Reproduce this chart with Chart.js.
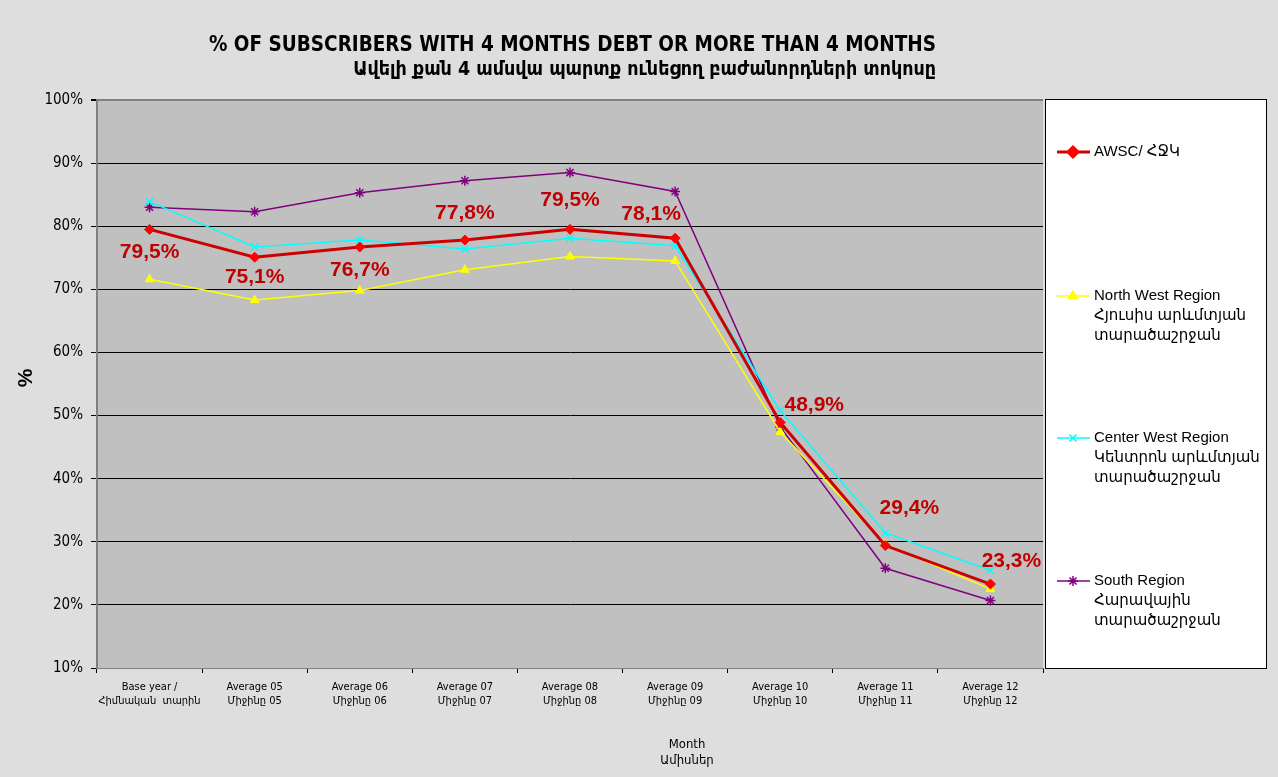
<!DOCTYPE html>
<html>
<head>
<meta charset="utf-8">
<script src="https://cdn.jsdelivr.net/npm/chart.js@4.4.1/dist/chart.umd.min.js"></script>
<style>
    html, body { margin: 0; padding: 0; background: #dedede; }
    #wrap { width: 1278px; height: 777px; position: relative; }
</style>
</head>
<body>
<div id="wrap"><canvas id="debt-chart" width="1278" height="777"></canvas></div>
<script>
const categories = [
    ['Base year /', 'Հիմնական  տարին'],
    ['Average 05', 'Միջինը 05'],
    ['Average 06', 'Միջինը 06'],
    ['Average 07', 'Միջինը 07'],
    ['Average 08', 'Միջինը 08'],
    ['Average 09', 'Միջինը 09'],
    ['Average 10', 'Միջինը 10'],
    ['Average 11', 'Միջինը 11'],
    ['Average 12', 'Միջինը 12']
];
const awscValues = [79.5, 75.1, 76.7, 77.8, 79.5, 78.1, 48.9, 29.4, 23.3];
const northWestValues = [71.6, 68.3, 69.8, 73.1, 75.2, 74.5, 47.4, 29.6, 22.5];
const centerWestValues = [83.9, 76.7, 77.8, 76.4, 78.1, 76.9, 50.8, 31.4, 25.5];
const southValues = [83.0, 82.3, 85.3, 87.2, 88.5, 85.5, 48.2, 25.8, 20.7];
const yTicks = [10, 20, 30, 40, 50, 60, 70, 80, 90, 100];

const seriesNames = [
    ['AWSC/ ՀՋԿ'],
    ['North West Region', 'Հյուսիս արևմտյան', 'տարածաշրջան'],
    ['Center West Region', 'Կենտրոն արևմտյան', 'տարածաշրջան'],
    ['South Region', 'Հարավային', 'տարածաշրջան']
];
const titleLines = [
    '% OF SUBSCRIBERS WITH 4 MONTHS DEBT OR MORE THAN 4 MONTHS',
    'Ավելի քան 4 ամսվա պարտք ունեցող բաժանորդների տոկոսը'
];
const xTitleLines = ['Month', 'Ամիսներ'];

// where each AWSC value label sits relative to its point
const labelOffsets = [[0, 23], [0, 20], [0, 23], [0, -27], [0, -29], [-24, -24], [34, -17], [24, -37], [21, -23]];

const narrow = '"Liberation Sans Narrow", "DejaVu Sans Condensed", "Liberation Sans", sans-serif';
const sans = '"Liberation Sans", Arial, "DejaVu Sans", sans-serif';

const chartDecor = {
    id: 'chartDecor',
    beforeDraw(chart) {
        const { ctx, chartArea } = chart;
        ctx.save();
        ctx.fillStyle = '#c0c0c0';
        ctx.fillRect(chartArea.left, chartArea.top, chartArea.right - chartArea.left, chartArea.bottom - chartArea.top);
        ctx.restore();
    },
    afterDraw(chart) {
        const { ctx } = chart;
        ctx.save();

        // title, both lines end at the same right edge
        ctx.fillStyle = '#000';
        ctx.textAlign = 'right';
        ctx.textBaseline = 'middle';
        ctx.font = 'bold 20.5px ' + narrow;
        ctx.fillText(titleLines[0], 936, 46);
        ctx.font = 'bold 19.5px ' + narrow;
        ctx.fillText(titleLines[1], 936, 70);
        ctx.textAlign = 'center';

        // y title
        ctx.save();
        ctx.translate(26, 378);
        ctx.rotate(-Math.PI / 2);
        ctx.font = 'bold 21px ' + sans;
        ctx.fillText('%', 0, 0);
        ctx.restore();

        // x title
        ctx.font = '13px ' + narrow;
        ctx.fillText(xTitleLines[0], 687, 745);
        ctx.fillText(xTitleLines[1], 687, 761);

        // value labels on AWSC
        const meta = chart.getDatasetMeta(0);
        ctx.font = 'bold 21px ' + sans;
        ctx.fillStyle = '#c00000';
        meta.data.forEach((pt, i) => {
            const txt = awscValues[i].toFixed(1).replace('.', ',') + '%';
            ctx.fillText(txt, pt.x + labelOffsets[i][0], pt.y + labelOffsets[i][1]);
        });

        // legend box
        const boxX = 1045, boxY = 99, boxW = 221, boxH = 569;
        ctx.fillStyle = '#ffffff';
        ctx.fillRect(boxX, boxY, boxW, boxH);
        ctx.strokeStyle = '#000';
        ctx.lineWidth = 1;
        ctx.strokeRect(boxX + 0.5, boxY + 0.5, boxW, boxH);

        const itemTops = [152, 296, 438, 581];
        ctx.textAlign = 'left';
        ctx.font = '15px ' + sans;
        chart.data.datasets.forEach((ds, i) => {
            const y = itemTops[i];
            ctx.strokeStyle = ds.borderColor;
            ctx.lineWidth = ds.borderWidth;
            ctx.beginPath();
            ctx.moveTo(1057, y);
            ctx.lineTo(1090, y);
            ctx.stroke();
            ctx.fillStyle = ds.pointBackgroundColor;
            ctx.strokeStyle = ds.pointBorderColor;
            Chart.helpers.drawPoint(ctx, {
                pointStyle: ds.pointStyle,
                radius: ds.pointRadius,
                rotation: 0,
                borderWidth: ds.pointBorderWidth
            }, 1073, y);
            ctx.fillStyle = '#000';
            seriesNames[i].forEach((line, j) => {
                ctx.fillText(line, 1094, y + j * 20);
            });
        });
        ctx.restore();
    }
};

const ctx = document.getElementById('debt-chart').getContext('2d');
new Chart(ctx, {
    type: 'line',
    data: {
        labels: categories,
        datasets: [
            {
                label: 'AWSC',
                data: awscValues,
                borderColor: '#cc0000',
                borderWidth: 3,
                pointStyle: 'rectRot',
                pointRadius: 5,
                pointBackgroundColor: '#ff0000',
                pointBorderColor: '#ff0000',
                pointBorderWidth: 1,
                tension: 0
            },
            {
                label: 'North West Region',
                data: northWestValues,
                borderColor: '#ffff00',
                borderWidth: 1.5,
                pointStyle: 'triangle',
                pointRadius: 5,
                pointBackgroundColor: '#ffff00',
                pointBorderColor: '#ffff00',
                pointBorderWidth: 1,
                tension: 0
            },
            {
                label: 'Center West Region',
                data: centerWestValues,
                borderColor: '#00ffff',
                borderWidth: 1.5,
                pointStyle: 'crossRot',
                pointRadius: 5,
                pointBackgroundColor: '#00ffff',
                pointBorderColor: '#00ffff',
                pointBorderWidth: 1.5,
                tension: 0
            },
            {
                label: 'South Region',
                data: southValues,
                borderColor: '#800080',
                borderWidth: 1.5,
                pointStyle: 'star',
                pointRadius: 5,
                pointBackgroundColor: '#800080',
                pointBorderColor: '#800080',
                pointBorderWidth: 1.5,
                tension: 0
            }
        ]
    },
    options: {
        responsive: false,
        animation: false,
        layout: { padding: { top: 100, right: 235, left: 0, bottom: 0 } },
        plugins: {
            legend: { display: false },
            tooltip: { enabled: false }
        },
        scales: {
            x: {
                offset: true,
                grid: {
                    offset: true,
                    drawOnChartArea: false,
                    drawTicks: true,
                    tickLength: 5,
                    color: '#000'
                },
                border: { color: '#808080', width: 1 },
                ticks: {
                    color: '#000',
                    padding: 8,
                    maxRotation: 0,
                    autoSkip: false,
                    font: { family: narrow, size: 11 }
                },
                afterFit: scale => { scale.height = 109; }
            },
            y: {
                min: 10,
                max: 100,
                afterBuildTicks: scale => { scale.ticks = yTicks.map(v => ({ value: v })); },
                grid: {
                    color: c => (c.tick && c.tick.value === 100 ? '#808080' : '#000'),
                    lineWidth: c => (c.tick && c.tick.value === 100 ? 2 : 1),
                    tickLength: 6,
                    tickColor: '#000'
                },
                border: { color: '#808080', width: 2 },
                ticks: {
                    color: '#000',
                    padding: 8,
                    font: { family: narrow, size: 15 },
                    callback: v => v + '%'
                },
                afterFit: scale => { scale.width = 97; }
            }
        }
    },
    plugins: [chartDecor]
});
</script>
</body>
</html>
